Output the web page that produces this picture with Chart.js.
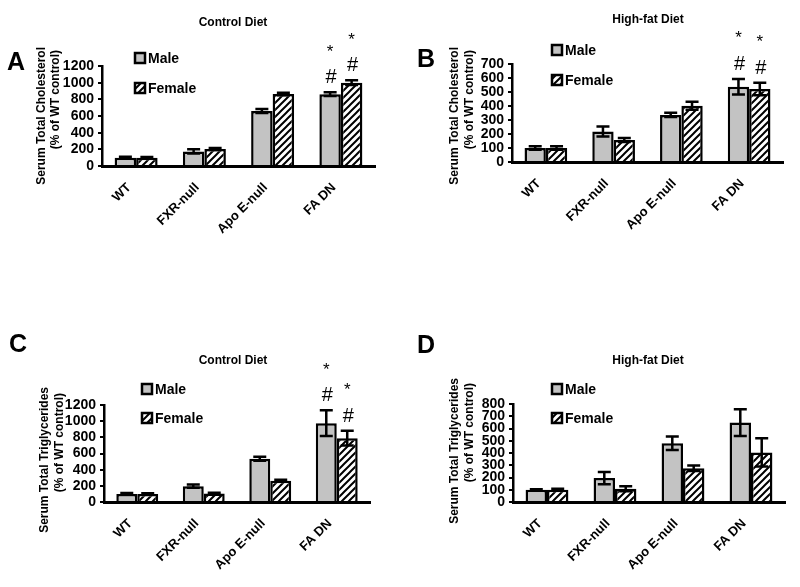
<!DOCTYPE html>
<html>
<head>
<meta charset="utf-8">
<script src="https://cdn.jsdelivr.net/npm/chart.js@4.4.0/dist/chart.umd.min.js"></script>
<style>
  html, body { margin: 0; padding: 0; background: #fff; }
  #wrap { position: relative; width: 800px; height: 587px; }
  canvas { position: absolute; }
</style>
</head>
<body>
<div id="wrap">
  <canvas id="chartA" width="400" height="290" style="left:0;top:0"></canvas>
  <canvas id="chartB" width="400" height="290" style="left:400px;top:0"></canvas>
  <canvas id="chartC" width="400" height="297" style="left:0;top:290px"></canvas>
  <canvas id="chartD" width="400" height="297" style="left:400px;top:290px"></canvas>
</div>
<script>
// categories shared by all four panels
const categories = ['WT', 'FXR-null', 'Apo E-null', 'FA DN'];

// A - serum total cholesterol, control diet
const cholCtrlMale = [100, 175, 660, 862];
const cholCtrlMaleErr = [10, 25, 25, 22];
const cholCtrlFemale = [100, 205, 865, 1000];
const cholCtrlFemaleErr = [8, 12, 15, 28];
const cholCtrlMaleSig = ['', '', '', '#*'];
const cholCtrlFemaleSig = ['', '', '', '#*'];

// B - serum total cholesterol, high-fat diet
const cholHfMale = [100, 218, 336, 538];
const cholHfMaleErr = [12, 36, 15, 55];
const cholHfFemale = [100, 157, 402, 521];
const cholHfFemaleErr = [12, 14, 28, 45];
const cholHfMaleSig = ['', '', '', '#*'];
const cholHfFemaleSig = ['', '', '', '#*'];

// C - serum total triglycerides, control diet
const tgCtrlMale = [100, 195, 535, 975];
const tgCtrlMaleErr = [10, 20, 25, 160];
const tgCtrlFemale = [100, 105, 262, 790];
const tgCtrlFemaleErr = [8, 8, 12, 90];
const tgCtrlMaleSig = ['', '', '', '#*'];
const tgCtrlFemaleSig = ['', '', '', '#*'];

// D - serum total triglycerides, high-fat diet
const tgHfMale = [100, 195, 480, 648];
const tgHfMaleErr = [5, 50, 55, 110];
const tgHfFemale = [100, 108, 275, 405];
const tgHfFemaleErr = [8, 20, 22, 115];
const tgHfMaleSig = ['', '', '', ''];
const tgHfFemaleSig = ['', '', '', ''];

const FONT = "'Liberation Sans', Arial, sans-serif";
Chart.defaults.font.family = FONT;
Chart.defaults.color = '#000';

const maleGray = '#c3c3c3';

// white bars with black "/" stripes
function makeHatch() {
    const c = document.createElement('canvas');
    c.width = 7; c.height = 7;
    const g = c.getContext('2d');
    g.fillStyle = '#fff';
    g.fillRect(0, 0, 7, 7);
    g.strokeStyle = '#000';
    g.lineWidth = 2;
    g.beginPath();
    g.moveTo(-1, 8); g.lineTo(8, -1);
    g.moveTo(-4, 4); g.lineTo(4, -4);
    g.moveTo(3, 11); g.lineTo(11, 3);
    g.stroke();
    return g.createPattern(c, 'repeat');
}
const hatch = makeHatch();

const decorPlugin = {
    id: 'decor',
    afterDatasetsDraw(chart, args, o) {
        const ctx = chart.ctx;
        const ys = chart.scales.y;
        ctx.save();
        ctx.strokeStyle = '#000';
        ctx.fillStyle = '#000';
        chart.data.datasets.forEach((ds, i) => {
            const meta = chart.getDatasetMeta(i);
            meta.data.forEach((bar, j) => {
                const v = ds.data[j], e = ds.errors[j];
                const top = ys.getPixelForValue(v + e);
                const bot = ys.getPixelForValue(v - e);
                ctx.lineWidth = 2.5;
                ctx.beginPath();
                ctx.moveTo(bar.x, top); ctx.lineTo(bar.x, bot);
                ctx.moveTo(bar.x - 6.5, top); ctx.lineTo(bar.x + 6.5, top);
                ctx.moveTo(bar.x - 6.5, bot); ctx.lineTo(bar.x + 6.5, bot);
                ctx.stroke();
                // significance marks above the error bar
                const s = ds.sig[j];
                ctx.textAlign = 'center';
                ctx.textBaseline = 'alphabetic';
                if (s.includes('#')) {
                    ctx.font = '20px ' + FONT;
                    ctx.fillText('#', bar.x + 1, top - 16 + 7);
                }
                if (s.includes('*')) {
                    ctx.font = '17px ' + FONT;
                    ctx.fillText('*', bar.x, top - 45 + 9.5);
                }
            });
        });
        ctx.restore();
    },
    afterDraw(chart, args, o) {
        const ctx = chart.ctx;
        ctx.save();
        ctx.fillStyle = '#000';
        // panel letter
        ctx.font = 'bold 25px ' + FONT;
        ctx.textAlign = 'left';
        ctx.textBaseline = 'alphabetic';
        ctx.fillText(o.letter, o.letterX, o.letterY);
        // diet title
        ctx.font = 'bold 12px ' + FONT;
        ctx.textAlign = 'center';
        ctx.textBaseline = 'middle';
        ctx.fillText(o.title, o.titleX, o.titleY);
        // y-axis title, two rotated lines aligned at the top
        ctx.font = 'bold 12px ' + FONT;
        o.yTitle.forEach((line, k) => {
            ctx.save();
            ctx.translate(o.yTitleX[k], o.yTitleTop[k]);
            ctx.rotate(-Math.PI / 2);
            ctx.textAlign = 'right';
            ctx.textBaseline = 'middle';
            ctx.fillText(line, 0, 0);
            ctx.restore();
        });
        // legend
        chart.data.datasets.forEach((ds, i) => {
            const x = o.legendX, y = o.legendY[i];
            ctx.fillStyle = ds.backgroundColor;
            ctx.fillRect(x, y - 5, 10, 10);
            ctx.lineWidth = 2.5;
            ctx.strokeStyle = '#000';
            ctx.strokeRect(x, y - 5, 10, 10);
            ctx.fillStyle = '#000';
            ctx.font = 'bold 14px ' + FONT;
            ctx.textAlign = 'left';
            ctx.textBaseline = 'middle';
            ctx.fillText(ds.label, x + 13, y + 1);
        });
        ctx.restore();
    }
};

function makePanel(id, p) {
    const el = document.getElementById(id);
    return new Chart(el, {
        type: 'bar',
        data: {
            labels: categories,
            datasets: [{
                label: 'Male',
                data: p.male,
                errors: p.maleErr,
                sig: p.maleSig,
                backgroundColor: maleGray,
                borderColor: '#000',
                borderWidth: 2.5
            }, {
                label: 'Female',
                data: p.female,
                errors: p.femaleErr,
                sig: p.femaleSig,
                backgroundColor: hatch,
                borderColor: '#000',
                borderWidth: 2.5
            }]
        },
        options: {
            responsive: false,
            animation: false,
            categoryPercentage: 0.63,
            barPercentage: 1.0,
            layout: {
                padding: { left: 0, right: el.width - p.area.right, top: p.area.top, bottom: 0 }
            },
            scales: {
                y: {
                    min: 0,
                    max: p.yMax,
                    afterFit: s => { s.width = p.area.left; },
                    ticks: {
                        stepSize: p.yStep,
                        autoSkip: false,
                        callback: v => String(v),
                        font: { size: 14, weight: 'bold' },
                        color: '#000',
                        padding: 4
                    },
                    grid: { drawOnChartArea: false, drawTicks: true, tickLength: 4, color: '#000', lineWidth: 2 },
                    border: { display: true, color: '#000', width: 2.5 }
                },
                x: {
                    afterFit: s => { s.height = el.height - p.area.bottom; },
                    ticks: {
                        minRotation: 45,
                        maxRotation: 45,
                        autoSkip: false,
                        labelOffset: -7,
                        font: { size: 13, weight: 'bold' },
                        color: '#000',
                        padding: 14
                    },
                    grid: { display: false, drawTicks: false },
                    border: { display: true, color: '#000', width: 3 }
                }
            },
            plugins: {
                legend: { display: false },
                tooltip: { enabled: false },
                decor: p.decor
            }
        },
        plugins: [decorPlugin]
    });
}

makePanel('chartA', {
    male: cholCtrlMale, maleErr: cholCtrlMaleErr, maleSig: cholCtrlMaleSig,
    female: cholCtrlFemale, femaleErr: cholCtrlFemaleErr, femaleSig: cholCtrlFemaleSig,
    yMax: 1200, yStep: 200,
    area: { left: 102, right: 375, top: 66, bottom: 166 },
    decor: {
        letter: 'A', letterX: 7, letterY: 70,
        title: 'Control Diet', titleX: 233, titleY: 23,
        yTitle: ['Serum Total Cholesterol', '(% of WT control)'],
        yTitleX: [42, 56], yTitleTop: [47, 50],
        legendX: 135, legendY: [58, 88]
    }
});

makePanel('chartB', {
    male: cholHfMale, maleErr: cholHfMaleErr, maleSig: cholHfMaleSig,
    female: cholHfFemale, femaleErr: cholHfFemaleErr, femaleSig: cholHfFemaleSig,
    yMax: 700, yStep: 100,
    area: { left: 112, right: 383, top: 64, bottom: 162 },
    decor: {
        letter: 'B', letterX: 17, letterY: 67,
        title: 'High-fat Diet', titleX: 248, titleY: 20,
        yTitle: ['Serum Total Cholesterol', '(% of WT control)'],
        yTitleX: [55, 70], yTitleTop: [47, 50],
        legendX: 152, legendY: [50, 80]
    }
});

makePanel('chartC', {
    male: tgCtrlMale, maleErr: tgCtrlMaleErr, maleSig: tgCtrlMaleSig,
    female: tgCtrlFemale, femaleErr: tgCtrlFemaleErr, femaleSig: tgCtrlFemaleSig,
    yMax: 1200, yStep: 200,
    area: { left: 104, right: 370, top: 115, bottom: 212 },
    decor: {
        letter: 'C', letterX: 9, letterY: 62,
        title: 'Control Diet', titleX: 233, titleY: 71,
        yTitle: ['Serum Total Triglycerides', '(% of WT control)'],
        yTitleX: [45, 60], yTitleTop: [97, 103],
        legendX: 142, legendY: [99, 128]
    }
});

makePanel('chartD', {
    male: tgHfMale, maleErr: tgHfMaleErr, maleSig: tgHfMaleSig,
    female: tgHfFemale, femaleErr: tgHfFemaleErr, femaleSig: tgHfFemaleSig,
    yMax: 800, yStep: 100,
    area: { left: 113, right: 385, top: 114, bottom: 212 },
    decor: {
        letter: 'D', letterX: 17, letterY: 63,
        title: 'High-fat Diet', titleX: 248, titleY: 71,
        yTitle: ['Serum Total Triglycerides', '(% of WT control)'],
        yTitleX: [55, 70], yTitleTop: [88, 93],
        legendX: 152, legendY: [99, 128]
    }
});
</script>
</body>
</html>
